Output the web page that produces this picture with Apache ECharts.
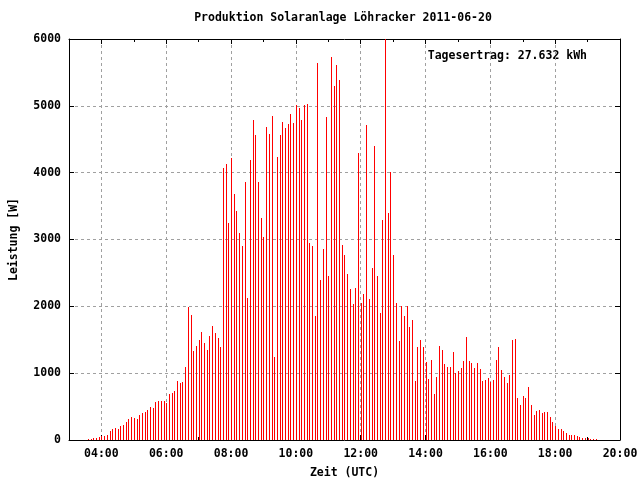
<!DOCTYPE html>
<html>
<head>
<meta charset="utf-8">
<script src="https://cdn.jsdelivr.net/npm/echarts@6/dist/echarts.min.js"></script>
<style>
html,body{margin:0;padding:0;background:#fff;}
#chart{width:640px;height:480px;}
</style>
</head>
<body>
<div id="chart"></div>
<script>
const chartTitle = 'Produktion Solaranlage Löhracker 2011-06-20';
const yieldText = 'Tagesertrag: 27.632 kWh';
const xAxisTitle = 'Zeit (UTC)';
const yAxisTitle = 'Leistung [W]';

// 5-minute samples starting at 03:35 UTC
const startMinute = 215;
const stepMinutes = 5;
const power = [
  15, 20, 35, 35, 50, 65, 65, 80, 140, 170,
  185, 170, 215, 230, 275, 320, 350, 335, 320, 380,
  410, 425, 455, 500, 485, 575, 590, 590, 590, 560,
  695, 705, 735, 880, 855, 865, 1090, 1990, 1870, 1335,
  1410, 1500, 1620, 1455, 1350, 1560, 1700, 1595, 1520, 1385,
  4065, 4124, 3244, 4214, 3676, 3423, 3094, 2900, 3856, 2124,
  4184, 4781, 4557, 3856, 3318, 3035, 4677, 4572, 4841, 1244,
  4229, 4557, 4751, 4662, 4721, 4871, 4736, 5005, 4975, 4781,
  5005, 5020, 2945, 2900, 1856, 5647, 2393, 2856, 4826, 2453,
  5736, 5303, 5617, 5393, 2915, 2766, 2483, 2259, 2035, 2274,
  4288, 2045, 2189, 4706, 2110, 2572, 4393, 2453, 1900, 3289,
  6000, 3393, 4005, 2766, 2045, 1480, 2000, 1856, 2000, 1692,
  1796, 885, 1393, 1498, 1393, 1169, 913, 1197, 688, 943,
  1406, 1346, 1137, 1092, 1092, 1317, 1002, 1032, 1077, 1182,
  1541, 1182, 1152, 1077, 1152, 1062, 883, 898, 928, 868,
  898, 1197, 1391, 1047, 943, 853, 973, 1496, 1512, 628,
  524, 658, 628, 793, 524, 374, 434, 449, 404, 419,
  419, 344, 269, 209, 165, 165, 135, 105, 75, 75,
  75, 60, 45, 30, 30, 30, 15, 15, 15
];

// axis range and ticks (minutes since 00:00 UTC)
const xMin = 180, xMax = 1200;
const majorTickMinutes = [240, 360, 480, 600, 720, 840, 960, 1080, 1200];
const minorTickMinutes = [300, 420, 540, 660, 780, 900, 1020, 1140];
const yMin = 0, yMax = 6000, yStep = 1000;

const FONT = 'DejaVu Sans Mono';
const FS = 11.5;
const textStyle = {color: '#000', fontFamily: FONT, fontSize: FS, fontWeight: 'bold'};
const fontStr = 'bold ' + FS + 'px "' + FONT + '"';

function fmtTime(m) {
  const h = Math.floor(m / 60), mm = m % 60;
  return (h < 10 ? '0' : '') + h + ':' + (mm < 10 ? '0' : '') + mm;
}

const seriesData = power.map((v, i) => [startMinute + stepMinutes * i, v]);

const baseX = {type: 'value', min: xMin, max: xMax, interval: 60, gridIndex: 0};
const chart = echarts.init(document.getElementById('chart'), null, {renderer: 'canvas'});
chart.setOption({
  animation: false,
  backgroundColor: '#fff',
  grid: {left: 69, right: 20, top: 39, bottom: 40, show: false, containLabel: false, outerBoundsMode: 'none'},
  xAxis: [
    Object.assign({}, baseX, {
      position: 'bottom',
      axisLine: {show: true, onZero: false, lineStyle: {color: '#000', width: 1}},
      axisTick: {show: true, inside: true, length: 5, customValues: majorTickMinutes, lineStyle: {color: '#000', width: 1}},
      axisLabel: Object.assign({show: true, margin: 8, customValues: majorTickMinutes, formatter: v => fmtTime(v)}, textStyle),
      splitLine: {show: true, lineStyle: {color: '#a0a0a0', width: 1, type: [3, 3]}},
      name: xAxisTitle, nameLocation: 'middle', nameGap: 27, nameTextStyle: textStyle
    }),
    Object.assign({}, baseX, {
      position: 'top',
      axisLine: {show: true, onZero: false, lineStyle: {color: '#000', width: 1}},
      axisTick: {show: true, inside: true, length: 5, customValues: majorTickMinutes, lineStyle: {color: '#000', width: 1}},
      axisLabel: {show: false}, splitLine: {show: false}
    }),
    Object.assign({}, baseX, {
      position: 'top',
      axisLine: {show: false, onZero: false},
      axisTick: {show: true, inside: true, length: 3, customValues: minorTickMinutes, lineStyle: {color: '#000', width: 1}},
      axisLabel: {show: false}, splitLine: {show: false}
    }),
    Object.assign({}, baseX, {
      position: 'bottom',
      axisLine: {show: false, onZero: false},
      axisTick: {show: true, inside: true, length: 3, customValues: minorTickMinutes, lineStyle: {color: '#000', width: 1}},
      axisLabel: {show: false}, splitLine: {show: false}
    })
  ],
  yAxis: [
    {
      type: 'value', min: yMin, max: yMax, interval: yStep, position: 'left',
      axisLine: {show: true, onZero: false, lineStyle: {color: '#000', width: 1}},
      axisTick: {show: true, inside: true, length: 5, lineStyle: {color: '#000', width: 1}},
      axisLabel: Object.assign({show: true, margin: 8, formatter: v => String(v)}, textStyle),
      splitLine: {show: true, lineStyle: {color: '#a0a0a0', width: 1, type: [3, 3]}},
      name: yAxisTitle, nameLocation: 'middle', nameGap: 49, nameRotate: 90, nameTextStyle: textStyle
    },
    {
      type: 'value', min: yMin, max: yMax, interval: yStep, position: 'right',
      axisLine: {show: true, onZero: false, lineStyle: {color: '#000', width: 1}},
      axisTick: {show: true, inside: true, length: 5, lineStyle: {color: '#000', width: 1}},
      axisLabel: {show: false}, splitLine: {show: false}
    }
  ],
  graphic: [
    {type: 'text', x: 343, y: 12, style: {text: chartTitle, textAlign: 'center', fill: '#000', font: fontStr}},
    {type: 'text', x: 587, y: 50, style: {text: yieldText, textAlign: 'right', fill: '#000', font: fontStr}}
  ],
  series: [
    {
      type: 'custom', xAxisIndex: 0, yAxisIndex: 0,
      data: seriesData, silent: true, z: 3, clip: true,
      renderItem: function (params, api) {
        const top = api.coord([api.value(0), api.value(1)]);
        const base = api.coord([api.value(0), 0]);
        const x = Math.round(top[0]);
        const yTop = Math.round(top[1]);
        const yBase = Math.round(base[1]);
        return {
          type: 'rect',
          shape: {x: x, y: yTop, width: 1, height: yBase - yTop},
          style: {fill: '#ff0000'}
        };
      }
    }
  ]
});
</script>
</body>
</html>
